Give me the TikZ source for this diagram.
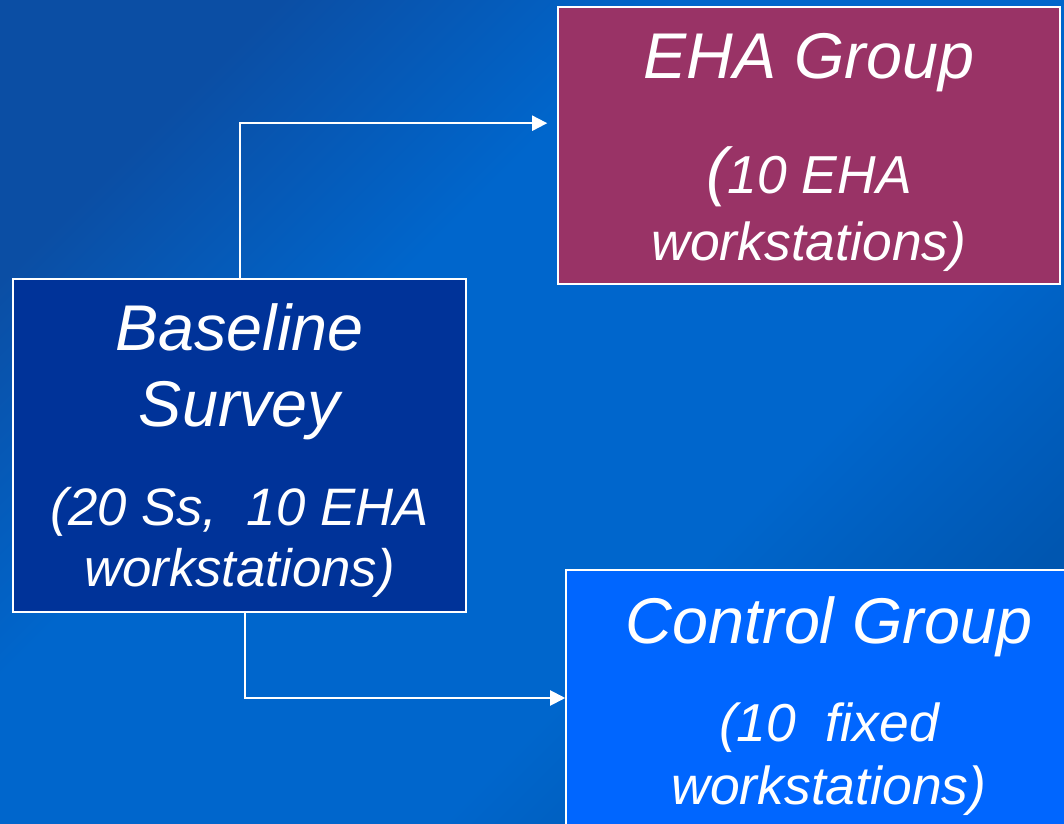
\documentclass[tikz,border=0pt]{standalone}
\usepackage{fontspec}
\setmainfont{Liberation Sans}
\usepackage{xcolor}
\usetikzlibrary{positioning, arrows.meta, calc}

\definecolor{bgdark}{HTML}{0B4EA4}
\definecolor{bglight}{HTML}{0066CC}
\definecolor{bgedge}{HTML}{0056B0}
\definecolor{basefill}{HTML}{003399}
\definecolor{ehafill}{HTML}{993366}
\definecolor{ctrlfill}{HTML}{0066FF}

\pgfdeclarehorizontalshading{backdrop}{100bp}{color(0bp)=(bgdark);
    color(25bp)=(bgdark); color(40bp)=(bglight); color(62bp)=(bglight);
    color(75bp)=(bgedge); color(100bp)=(bgedge)}

\newcommand{\bigtitle}{\fontsize{46}{47}\selectfont}

\begin{document}
\begin{tikzpicture}[
    box/.style={draw=white, line width=1.1pt, text=white, align=center,
        font=\itshape},
    flow/.style={draw=white, line width=1.4pt,
        -{Triangle[length=0.375cm, width=0.375cm]}}
]
    % Canvas
    \useasboundingbox (0,0) rectangle (26.6,20.6);
    \clip (0,0) rectangle (26.6,20.6);
    \shade[shading=backdrop, shading angle=-45] (0,0) rectangle (26.6,20.6);

    % Boxes
    \node[box, fill=basefill, minimum width=11.325cm, minimum height=8.325cm,
        font=\itshape\fontsize{37.5}{43}\selectfont] (base) at (5.99,9.46)
        {{\bigtitle\rule{0pt}{40pt}Baseline}\\[11pt]{\bigtitle Survey}\\[28pt]
         (20 Ss,~~10 EHA\\workstations)};

    \node[box, fill=ehafill, minimum width=12.55cm, minimum height=6.925cm,
        font=\itshape\fontsize{38}{47.5}\selectfont] (eha) at (20.225,16.96)
        {{\bigtitle\rule{0pt}{42pt}EHA Group}\\[34pt]{\bigtitle(}10 EHA\\workstations)};

    \node[box, fill=ctrlfill, minimum width=13.15cm, minimum height=6.8cm,
        font=\itshape\fontsize{38}{44.6}\selectfont] (ctrl) at (20.725,2.95)
        {{\bigtitle Control Group}\\[25pt](10~~fixed\\workstations)};

    % Arrows
    \draw[flow, shorten >=0.25cm] (base.north) |- ([yshift=0.56cm]eha.west);
    \draw[flow] ([xshift=0.14cm]base.south) |- ([yshift=0.2cm]ctrl.west);
\end{tikzpicture}
\end{document}
